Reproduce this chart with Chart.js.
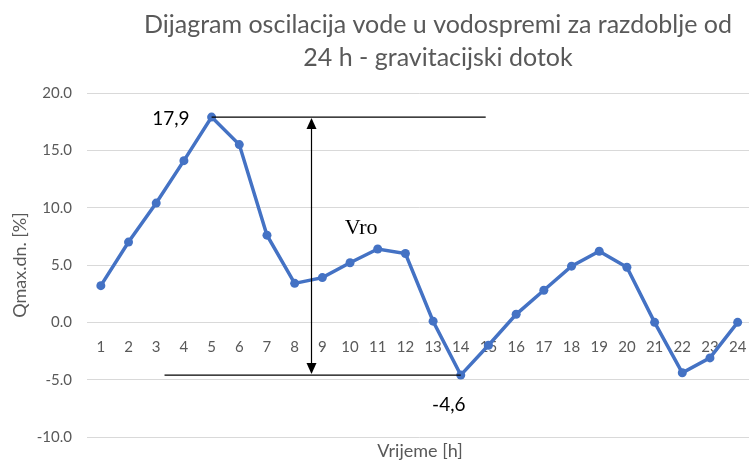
<!DOCTYPE html>
<html>
<head>
<meta charset="utf-8">
<script src="https://cdn.jsdelivr.net/npm/chart.js@4.4.1/dist/chart.umd.min.js"></script>
<style>
html,body{margin:0;padding:0;background:#fff;overflow:hidden;}
#wrap{width:749px;height:463px;position:relative;overflow:hidden;}
</style>
</head>
<body>
<div id="wrap"><canvas id="c" width="756" height="463"></canvas></div>
<script>
const hours = ['1','2','3','4','5','6','7','8','9','10','11','12','13','14','15','16','17','18','19','20','21','22','23','24'];
const oscillation = [3.2, 7.0, 10.4, 14.1, 17.9, 15.5, 7.6, 3.4, 3.9, 5.2, 6.4, 6.0, 0.1, -4.6, -2.0, 0.7, 2.8, 4.9, 6.2, 4.8, 0.0, -4.4, -3.1, 0.0];
const yTicks = [-10, -5, 0, 5, 10, 15, 20];
const titleLines = ['Dijagram oscilacija vode u vodospremi za razdoblje od', '24 h - gravitacijski dotok'];
const yTitle = 'Qmax.dn. [%]';
const xTitle = 'Vrijeme [h]';
const peakValue = 17.9, peakLabel = '17,9';
const troughValue = -4.6, troughLabel = '-4,6';
const volumeLabel = 'Vro';

const GREY = '#595959';
const FONT = 'Lato, "Open Sans", sans-serif';

const overlay = {
  id: 'overlay',
  afterDatasetsDraw(chart) {
    const ctx = chart.ctx, x = chart.scales.x, y = chart.scales.y;
    const yTop = y.getPixelForValue(peakValue), yBot = y.getPixelForValue(troughValue);
    ctx.save();
    ctx.strokeStyle = '#000';
    ctx.lineWidth = 1.2;
    ctx.beginPath();
    ctx.moveTo(x.getPixelForValue(4), yTop);
    ctx.lineTo(x.getPixelForValue(13.9), yTop);
    ctx.stroke();
    ctx.beginPath();
    ctx.moveTo(x.getPixelForValue(2.3), yBot);
    ctx.lineTo(x.getPixelForValue(13), yBot);
    ctx.stroke();
    const ax = Math.round(x.getPixelForValue(7.6)) + 0.5;
    ctx.beginPath();
    ctx.moveTo(ax, yTop + 10);
    ctx.lineTo(ax, yBot - 10);
    ctx.stroke();
    ctx.fillStyle = '#000';
    ctx.beginPath();
    ctx.moveTo(ax, yTop + 1); ctx.lineTo(ax - 5, yTop + 12); ctx.lineTo(ax + 5, yTop + 12); ctx.closePath(); ctx.fill();
    ctx.beginPath();
    ctx.moveTo(ax, yBot - 1); ctx.lineTo(ax - 5, yBot - 12); ctx.lineTo(ax + 5, yBot - 12); ctx.closePath(); ctx.fill();
    ctx.fillStyle = '#000';
    ctx.font = '19px ' + FONT;
    ctx.textBaseline = 'middle';
    ctx.textAlign = 'right';
    ctx.fillText(peakLabel, x.getPixelForValue(4) - 22, yTop + 2);
    ctx.textAlign = 'center';
    ctx.fillText(troughLabel, x.getPixelForValue(13) - 12, yBot + 30);
    ctx.font = '22px "Liberation Serif", "DejaVu Serif", serif';
    ctx.fillText(volumeLabel, x.getPixelForValue(9.4), y.getPixelForValue(8.2));
    ctx.restore();
  },
  afterDraw(chart) {
    const ctx = chart.ctx, ca = chart.chartArea;
    ctx.save();
    ctx.fillStyle = GREY;
    ctx.textAlign = 'center';
    ctx.textBaseline = 'middle';
    ctx.font = '25px ' + FONT;
    ctx.fillText(titleLines[0], 438, 25);
    ctx.fillText(titleLines[1], 438, 58);
    ctx.font = '18px ' + FONT;
    ctx.fillText(xTitle, 420, 451);
    ctx.translate(20, (ca.top + ca.bottom) / 2);
    ctx.rotate(-Math.PI / 2);
    ctx.font = '18px ' + FONT;
    ctx.fillText(yTitle, 0, 0);
    ctx.restore();
  }
};

new Chart(document.getElementById('c'), {
  type: 'line',
  data: {
    labels: hours,
    datasets: [{
      data: oscillation,
      borderColor: '#4472C4',
      backgroundColor: '#4472C4',
      borderWidth: 3.5,
      pointRadius: 4.5,
      pointHoverRadius: 4.5,
      pointBorderWidth: 0,
      tension: 0
    }]
  },
  options: {
    responsive: false,
    animation: false,
    layout: { padding: { top: 93, bottom: 26, left: 0, right: 0 } },
    plugins: { legend: { display: false }, title: { display: false }, tooltip: { enabled: false } },
    scales: {
      x: {
        type: 'category',
        position: { y: 0 },
        offset: true,
        afterFit(scale) { scale.paddingLeft = 0; scale.paddingRight = 0; },
        grid: { display: false, drawTicks: false },
        border: { display: false },
        ticks: { color: GREY, font: { family: FONT, size: 15 }, padding: 16, maxRotation: 0, autoSkip: false }
      },
      y: {
        min: -10, max: 20,
        afterBuildTicks(scale) { scale.ticks = yTicks.map(v => ({ value: v })); },
        afterFit(scale) { scale.width = 87; },
        grid: { color: '#d9d9d9', lineWidth: 1, drawTicks: false },
        border: { display: false },
        ticks: { color: GREY, font: { family: FONT, size: 15 }, padding: 15, callback: v => Number(v).toFixed(1) }
      }
    }
  },
  plugins: [overlay]
});
</script>
</body>
</html>
